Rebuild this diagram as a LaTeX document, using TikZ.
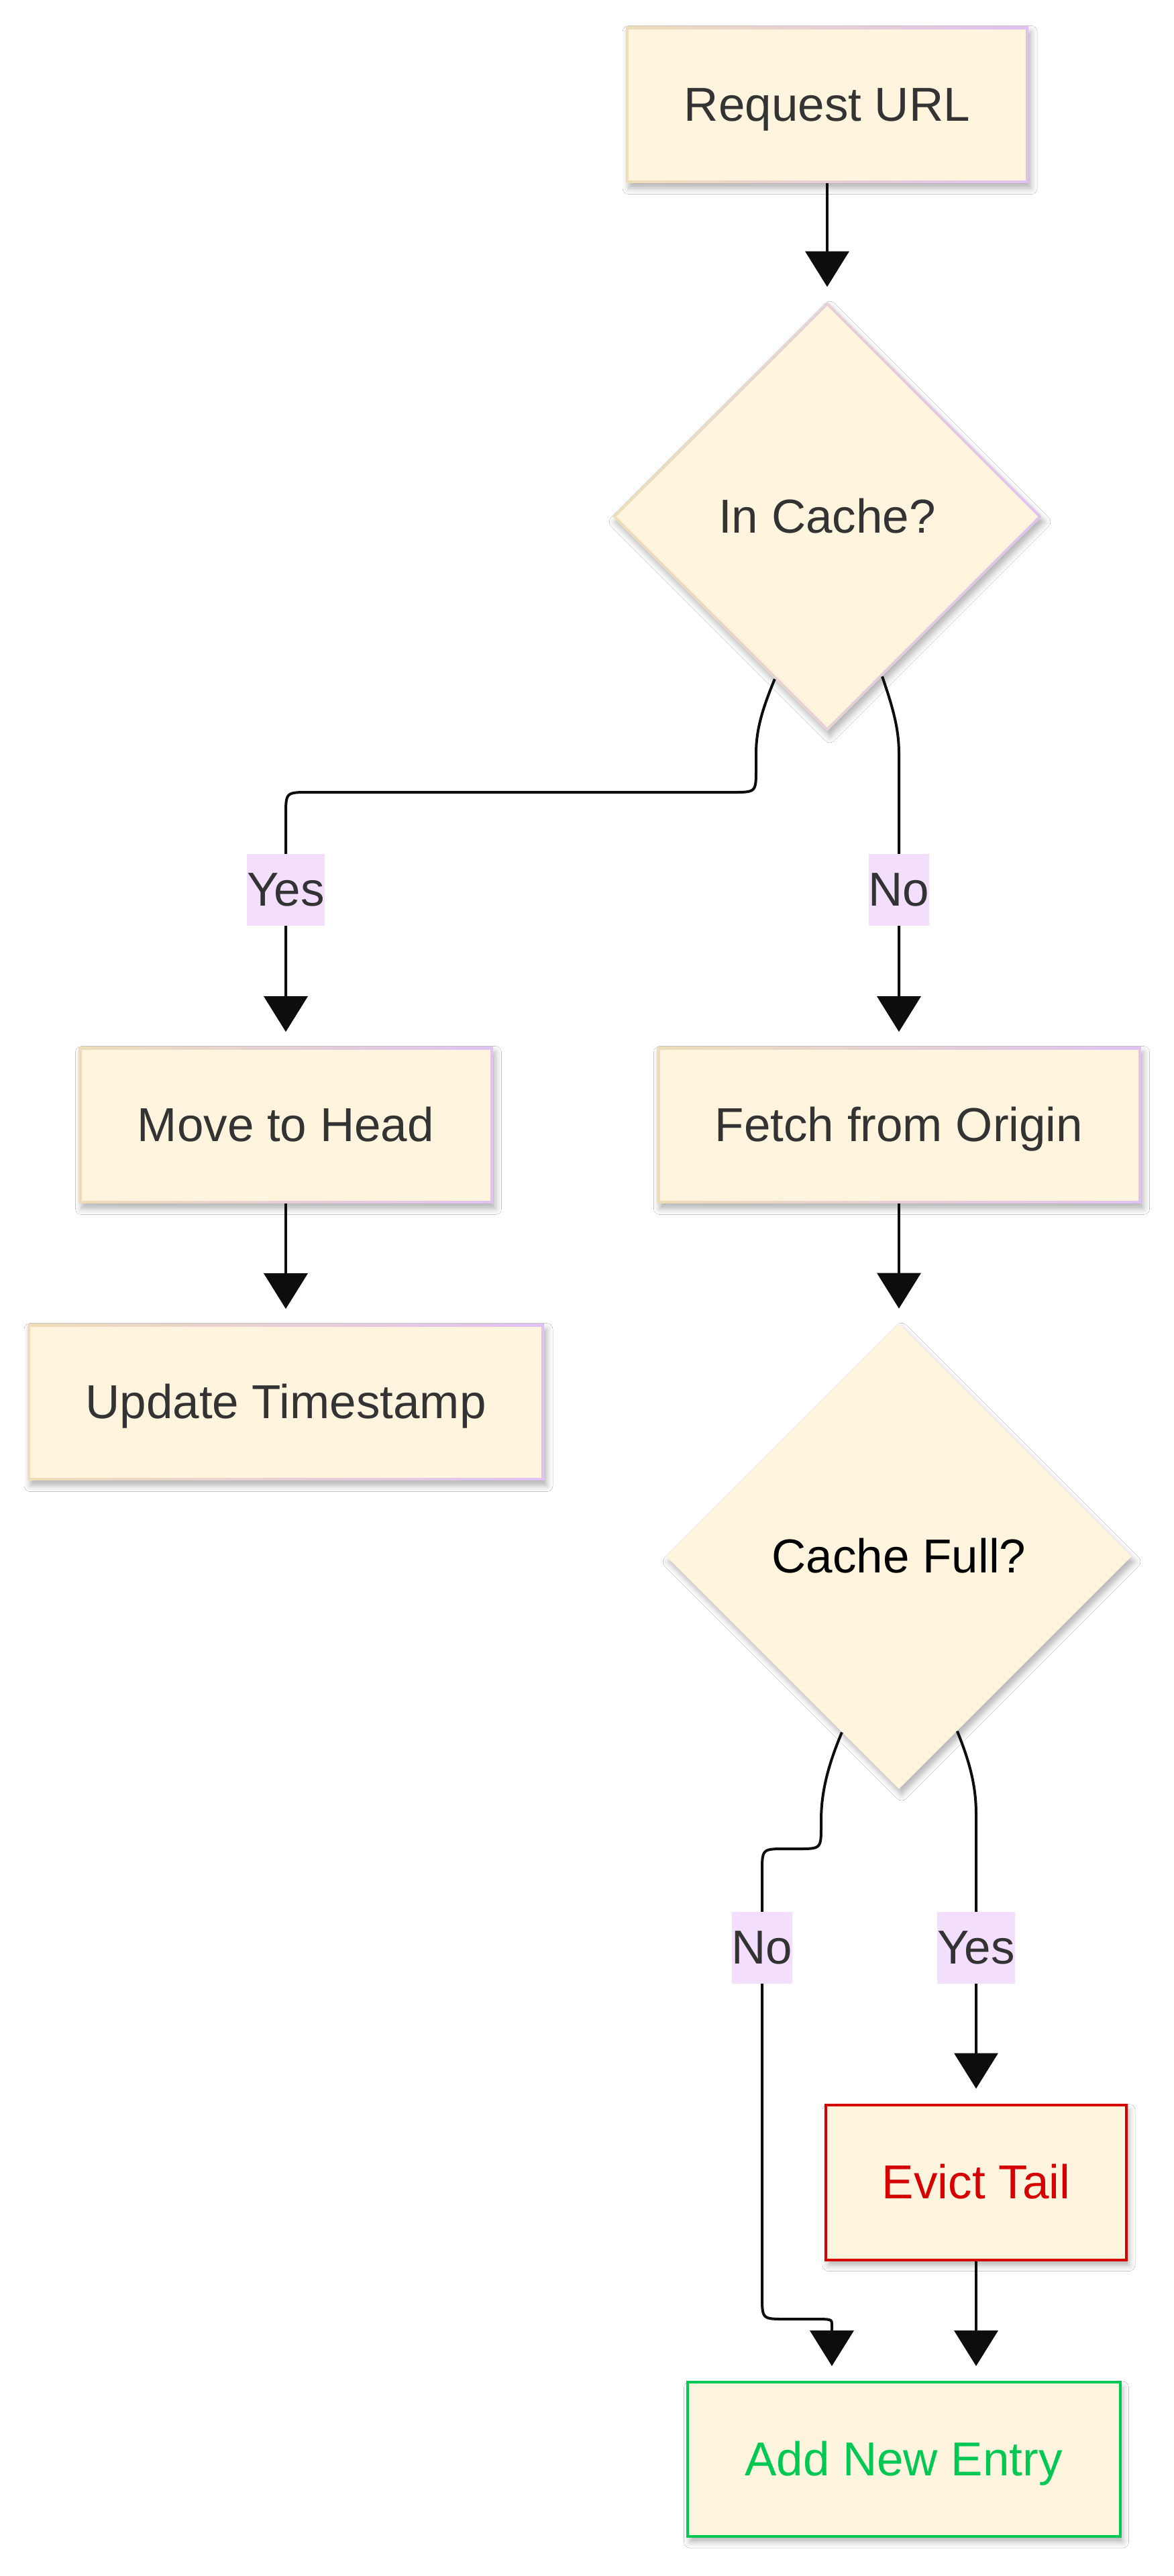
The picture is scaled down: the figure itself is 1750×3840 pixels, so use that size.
\documentclass[tikz,border=0pt]{standalone}
\usepackage{fontspec}
\setmainfont{Liberation Sans}
\usetikzlibrary{shapes.geometric,arrows.meta,calc,shadows.blur}
\definecolor{cream}{HTML}{FFF4DD}
\definecolor{bdL}{HTML}{EEDDB8}
\definecolor{bdR}{HTML}{DFC2F2}
\definecolor{txt}{HTML}{333333}
\definecolor{labbg}{HTML}{F3DEFD}
\definecolor{evred}{HTML}{D50000}
\definecolor{addgreen}{HTML}{00C853}
\definecolor{edgec}{HTML}{0D0D0D}
\tikzset{
  shadowed/.style={blur shadow={shadow xshift=2pt, shadow yshift=-4pt, shadow blur radius=4.5pt, shadow opacity=30}},
  base/.style={font=\fontsize{35.5}{42}\selectfont, text=txt, inner sep=0pt, text height=32.1pt, text depth=7.5pt, shadowed},
  gradrect/.style={path picture={
      \shade[left color=bdL, right color=bdR] (path picture bounding box.south west) rectangle (path picture bounding box.north east);
      \fill[cream] ([shift={(2pt,2pt)}]path picture bounding box.south west) rectangle ([shift={(-2pt,-2pt)}]path picture bounding box.north east);}},
  graddia/.style={path picture={
      \shade[left color=bdL, right color=bdR] (path picture bounding box.south west) rectangle (path picture bounding box.north east);
      \fill[cream] ([yshift=-2.8pt]path picture bounding box.north) -- ([xshift=-2.8pt]path picture bounding box.east) -- ([yshift=2.8pt]path picture bounding box.south) -- ([xshift=2.8pt]path picture bounding box.west) -- cycle;}},
  proc/.style={base, rectangle, fill=cream, minimum height=116.5pt, gradrect},
  decis/.style={base, diamond, aspect=1, fill=cream},
  lab/.style={font=\fontsize{35.5}{42}\selectfont, text=txt, fill=labbg, inner xsep=0pt, inner ysep=0pt, text height=32.1pt, text depth=7.5pt, minimum height=53.5pt},
  edge/.style={draw=edgec, line width=2pt, -{Triangle[length=26.5pt,width=32.5pt]}, shorten >=11pt},
}
\begin{document}
\begin{tikzpicture}[x=0.5pt,y=-0.5pt]
\fill[white] (0,0) rectangle (1750,3840);
\useasboundingbox (0,0) rectangle (1750,3840);

\node[proc, minimum width=300pt] (req) at (1233,156) {Request URL};
\node[decis, graddia, minimum width=320pt, minimum height=320pt] (ic) at (1233,770) {In Cache?};
\node[proc, minimum width=308.5pt] (mv) at (426,1677) {Move to Head};
\node[proc, minimum width=360.5pt] (fo) at (1340,1677) {Fetch from Origin};
\node[proc, minimum width=385pt] (ut) at (426,2090) {Update Timestamp};
\node[decis, text=black, minimum width=347pt, minimum height=347pt] (cf) at (1340,2320) {Cache Full?};
\node[base, rectangle, fill=cream, draw=evred, line width=2pt, text=evred, minimum width=224pt, minimum height=115.5pt] (ev) at (1455,3253) {Evict Tail};
\node[base, rectangle, fill=cream, draw=addgreen, line width=2pt, text=addgreen, minimum width=322.5pt, minimum height=115pt] (add) at (1347,3666) {Add New Entry};

\coordinate (e1s) at ($(ic.south)!0.244!(ic.west)$);
\coordinate (e2s) at ($(ic.south)!0.256!(ic.east)$);
\coordinate (e3s) at ($(cf.south)!0.245!(cf.west)$);
\coordinate (e4s) at ($(cf.south)!0.25!(cf.east)$);
\coordinate (addA) at ($(add.north)+(-107,0)$);
\coordinate (addB) at ($(add.north)+(108,0)$);

\draw[edge] (req.south) -- (ic.north);
\draw[edge] (e1s) .. controls (1135,1060) and (1127,1090) .. (1127,1124) -- (1127,1146) .. controls (1127,1181) .. (1092,1181) -- (461,1181) .. controls (426,1181) .. (426,1216) -- (mv.north);
\draw[edge] (e2s) .. controls (1333,1060) and (1340,1090) .. (1340,1124) -- (fo.north);
\draw[edge] (mv.south) -- (ut.north);
\draw[edge] (fo.south) -- (cf.north);
\draw[edge] (e3s) .. controls (1235,2630) and (1224,2670) .. (1224,2714) -- (1224,2721) .. controls (1224,2756) .. (1189,2756) -- (1171,2756) .. controls (1136,2756) .. (1136,2791) -- (1136,3422) .. controls (1136,3457) .. (1171,3457) -- (1212,3457) .. controls (1240,3457) .. (1240,3466) -- (addA);
\draw[edge] (e4s) .. controls (1447,2630) and (1455,2665) .. (1455,2705) -- (ev.north);
\draw[edge] (ev.south) -- (addB);

\node[lab] (l1) at (426,1326) {Yes};
\node[lab] (l2) at (1340,1326) {No};
\node[lab] (l3) at (1136,2903) {No};
\node[lab] (l4) at (1455,2903) {Yes};
\end{tikzpicture}
\end{document}
